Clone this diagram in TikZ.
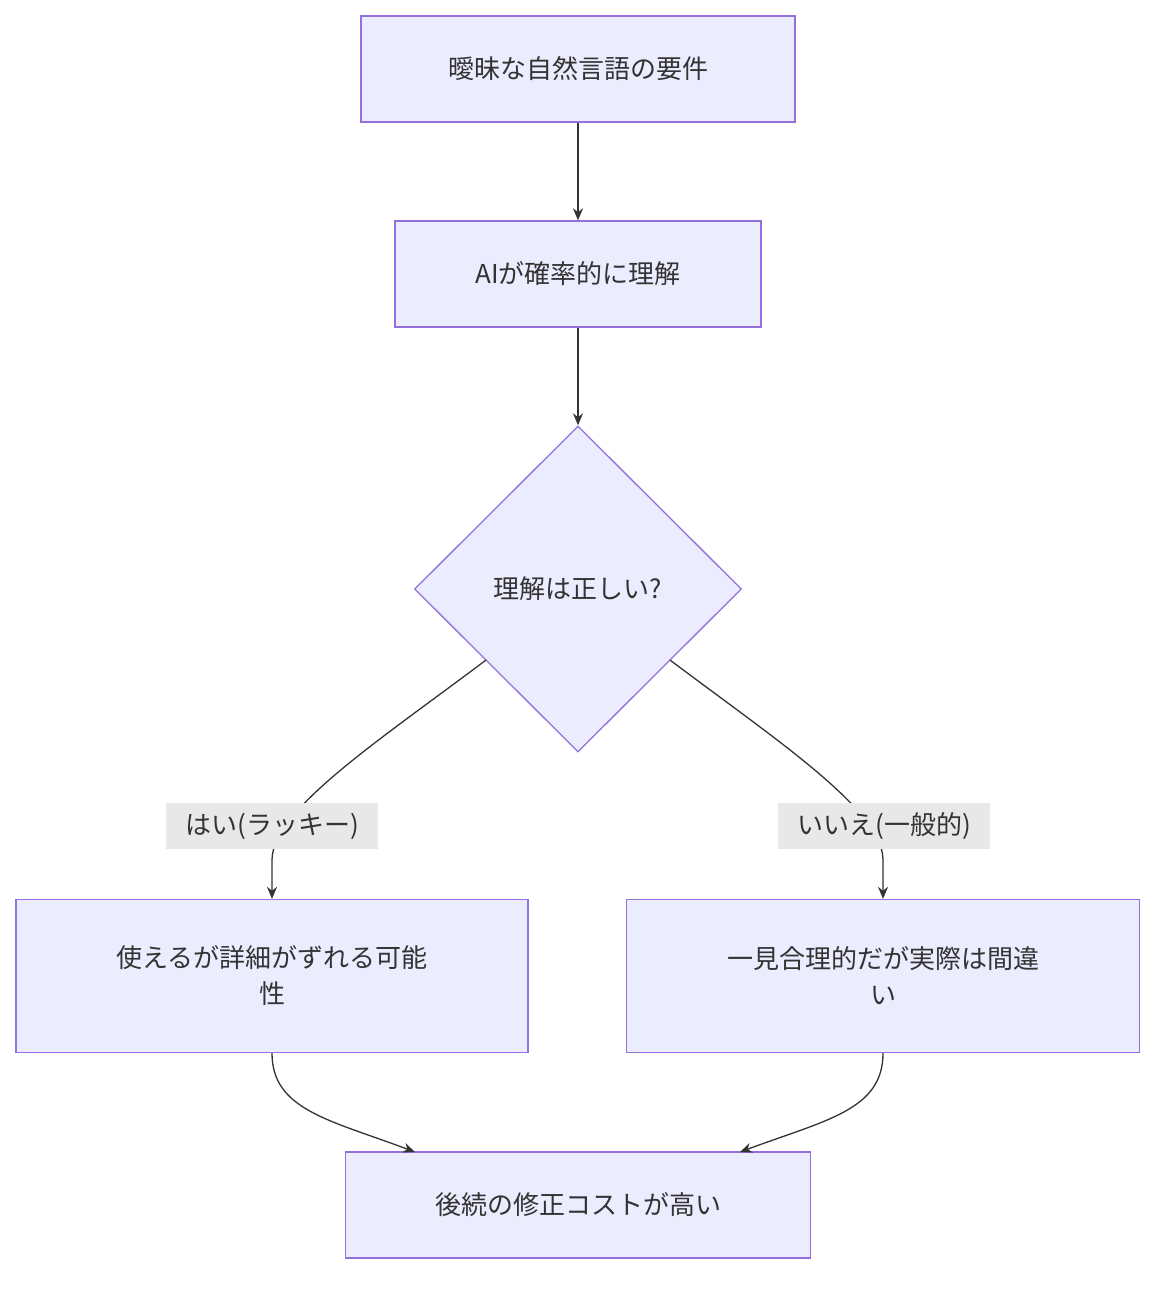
\documentclass[tikz,border=0pt]{standalone}
\usepackage{fontspec}
\setmainfont{Noto Sans CJK JP}
\usetikzlibrary{shapes.geometric,arrows.meta}
\definecolor{nf}{HTML}{ECECFF}\definecolor{ns}{HTML}{9370DB}\definecolor{tx}{HTML}{333333}
\begin{document}
\begin{tikzpicture}[x=1pt,y=-1pt,
box/.style={draw=ns,fill=nf,line width=1.3pt,inner sep=0,text=tx,font=\fontsize{26}{36}\selectfont,align=center},
lab/.style={fill=black!9,text=tx,font=\fontsize{26}{32}\selectfont,inner sep=2pt,minimum height=46},
ar/.style={draw=tx,line width=1.3pt,-{Stealth[length=12pt,width=10pt]}}]
\useasboundingbox (0,0) rectangle (1172,1292);
\node[box,minimum width=434,minimum height=106] (a) at (578,69) {曖昧な自然言語の要件};
\node[box,minimum width=366,minimum height=106] (b) at (578,274) {AIが確率的に理解};
\node[box,diamond,minimum width=327,minimum height=326] (c) at (578,589) {理解は正しい?};
\node[box,minimum width=512,minimum height=153] (d) at (272,976) {使えるが詳細がずれる可能\\性};
\node[box,minimum width=513,minimum height=153] (e) at (883,976) {一見合理的だが実際は間違\\い};
\node[box,minimum width=465,minimum height=106] (f) at (578,1205) {後続の修正コストが高い};
\draw[ar] (a) -- (b);
\draw[ar] (b) -- (c);
\coordinate (cl) at (486,660); \coordinate (cr) at (670,660);
\draw[ar] (cl) .. controls (380,740) and (272,810) .. (272,860) -- (d.north);
\draw[ar] (cr) .. controls (776,740) and (883,810) .. (883,860) -- (e.north);
\node[lab,minimum width=212] (l1) at (272,826) {はい(ラッキー)};
\node[lab,minimum width=212] (l2) at (884,826) {いいえ(一般的)};
\draw[ar] (d.south) .. controls (272,1110) and (330,1120) .. (415,1152);
\draw[ar] (e.south) .. controls (883,1110) and (826,1120) .. (740,1152);
\end{tikzpicture}
\end{document}
